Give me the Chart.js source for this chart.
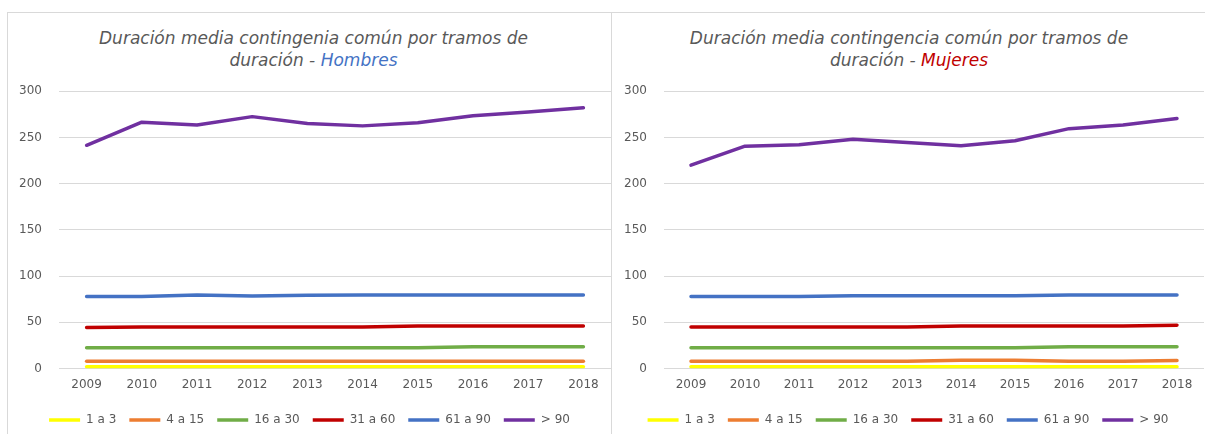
<!DOCTYPE html>
<html>
<head>
<meta charset="utf-8">
<script src="https://cdn.jsdelivr.net/npm/chart.js@4"></script>
<style>
  html, body { margin: 0; padding: 0; background: #fff; }
  body { width: 1205px; height: 434px; position: relative; overflow: hidden; font-family: "DejaVu Sans", sans-serif; }
  .panel { position: absolute; top: 12px; height: 440px; border: 1px solid #d9d9d9; box-sizing: border-box; }
  .title { position: absolute; top: 14px; left: 0; right: 0; text-align: center; font-style: italic;
           font-size: 17px; line-height: 22px; color: #595959; }
  .wrap { position: absolute; left: 0; top: 54px; right: 0; height: 370px; }
</style>
</head>
<body>
<div class="panel" style="left:7px; width:605px;">
  <div class="title" style="padding-left:8px">Duración media contingenia común por tramos de<br>duración - <span style="color:#4472C4">Hombres</span></div>
  <div class="wrap"><canvas id="hombres"></canvas></div>
</div>
<div class="panel" style="left:611px; width:600px;">
  <div class="title" style="padding-right:4px">Duración media contingencia común por tramos de<br>duración - <span style="color:#C00000">Mujeres</span></div>
  <div class="wrap" style="right:6px"><canvas id="mujeres"></canvas></div>
</div>
<script>
// Mean duration (days) of common-contingency sick leave by duration band, 2009-2018.
const years = ["2009", "2010", "2011", "2012", "2013", "2014", "2015", "2016", "2017", "2018"];
const bands = ["1 a 3", "4 a 15", "16 a 30", "31 a 60", "61 a 90", "> 90"];
const bandColors = ["#FFFF00", "#ED7D31", "#70AD47", "#C00000", "#4472C4", "#7030A0"];

const h1a3   = [2, 2, 2, 2, 2, 2, 2, 2, 2, 2];
const h4a15  = [8, 8, 8, 8, 8, 8, 8, 8, 8, 8];
const h16a30 = [22.5, 22.5, 22.5, 22.5, 22.5, 22.5, 22.5, 23.5, 23.5, 23.5];
const h31a60 = [44.5, 45, 45, 45, 45, 45, 46, 46, 46, 46];
const h61a90 = [78, 78, 79.5, 78.5, 79.3, 79.5, 79.5, 79.5, 79.5, 79.5];
const hMas90 = [241.5, 266.5, 263.5, 272.5, 265, 262.5, 266, 273.5, 277.5, 282];

const m1a3   = [2, 2, 2, 2, 2, 2, 2, 2, 2, 2];
const m4a15  = [8, 8, 8, 8, 8, 9, 9, 8, 8, 8.7];
const m16a30 = [22.5, 22.5, 22.5, 22.5, 22.5, 22.5, 22.5, 23.5, 23.5, 23.5];
const m31a60 = [45, 45, 45, 45, 45, 46, 46, 46, 46, 47];
const m61a90 = [78, 78, 78, 78.7, 78.7, 78.7, 78.7, 79.5, 79.5, 79.5];
const mMas90 = [220, 240.5, 242, 248, 244.5, 241, 246.5, 259.5, 263.5, 270.5];

const yMax = 300, yStep = 50;
const textColor = "#595959";
const gridColor = "#D9D9D9";

function makeChart(id, series, axisWidth) {
  return new Chart(document.getElementById(id), {
    type: "line",
    data: {
      labels: years,
      datasets: series.map((data, i) => ({
        label: bands[i], data,
        borderColor: bandColors[i], backgroundColor: bandColors[i],
        borderWidth: 3.5, pointRadius: 0, tension: 0,
        borderCapStyle: "round", borderJoinStyle: "round",
      })),
    },
    options: {
      responsive: true,
      maintainAspectRatio: false,
      animation: false,
      layout: { padding: { top: 23, right: 0, bottom: 1, left: 0 } },
      plugins: {
        tooltip: { enabled: false },
        legend: {
          position: "bottom",
          labels: {
            color: textColor, font: { family: "DejaVu Sans", size: 12 },
            usePointStyle: true, pointStyle: "line", pointStyleWidth: 31,
            boxHeight: 12, padding: 13,
          },
        },
      },
      scales: {
        x: {
          offset: true,
          grid: { display: false, drawTicks: false },
          border: { display: false },
          ticks: { color: textColor, font: { family: "DejaVu Sans", size: 12 }, padding: 9, maxRotation: 0 },
        },
        y: {
          min: 0, max: yMax,
          afterFit: (s) => { s.width = axisWidth; },
          grid: { color: gridColor, drawTicks: false },
          border: { display: false },
          ticks: { stepSize: yStep, color: textColor, font: { family: "DejaVu Sans", size: 12 }, padding: 17 },
        },
      },
    },
  });
}

makeChart("hombres", [h1a3, h4a15, h16a30, h31a60, h61a90, hMas90], 51);
makeChart("mujeres", [m1a3, m4a15, m16a30, m31a60, m61a90, mMas90], 52);
</script>
</body>
</html>
